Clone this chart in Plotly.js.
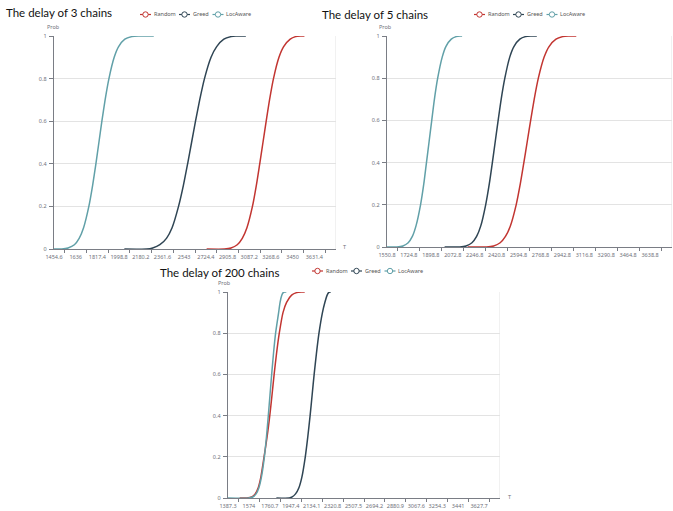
<!DOCTYPE html>
<html><head><meta charset="utf-8">
<script src="https://cdn.plot.ly/plotly-3.0.1.min.js"></script>
<style>html,body{margin:0;padding:0;background:#fff;}#chart{width:673px;height:511px;}</style>
</head><body><div id="chart"></div>
<script>
// ---------- data ----------
const seriesNames = ['Random', 'Greed', 'LocAware'];
const seriesColors = ['#c23531', '#2f4554', '#61a0a8'];
const titles = ['The delay of 3 chains', 'The delay of 5 chains', 'The delay of 200 chains'];
const yAxisName = 'Prob';
const xAxisName = 'T';

const p1TickLabels = ['1454.6','1636','1817.4','1998.8','2180.2','2361.6','2543','2724.4','2905.8','3087.2','3268.6','3450','3631.4'];
const p2TickLabels = ['1550.8','1724.8','1898.8','2072.8','2246.8','2420.8','2594.8','2768.8','2942.8','3116.8','3290.8','3464.8','3638.8'];
const p3TickLabels = ['1387.3','1574','1760.7','1947.4','2134.1','2320.8','2507.5','2694.2','2880.9','3067.6','3254.3','3441','3627.7'];

// cumulative probabilities read at these levels
const probLevels = [0,0,0.005,0.02,0.05,0.1,0.2,0.3,0.4,0.5,0.6,0.7,0.8,0.9,0.95,0.985,0.997,1,1];

// panel 1: 3 chains (delay T at each probability level)
const p1RandomT = [2731,2880,2935,2987,3029,3068,3114,3147,3175,3202,3229,3257,3290,3336,3375,3430,3475,3515,3549];
const p1GreedT  = [2043,2230,2280,2340,2395,2442,2496,2537,2572,2605,2638,2673,2713,2768,2815,2875,2935,2975,3059];
const p1LocT    = [1454.6,1520,1572,1625,1665,1702,1746,1778,1805,1830,1855,1882,1914,1958,1995,2047,2105,2160,2289];

// panel 2: 5 chains
const p2RandomT = [2191,2340,2397,2449,2491,2530,2576,2609,2637,2664,2691,2719,2752,2798,2837,2892,2945,2990,3053];
const p2GreedT  = [2008,2130,2178,2225,2262,2295,2334,2363,2387,2410,2433,2457,2486,2525,2558,2605,2650,2690,2740];
const p2LocT    = [1550.8,1630,1677,1719,1752,1781,1817,1843,1864,1885,1906,1927,1953,1989,2018,2061,2100,2130,2147];

// panel 3: 200 chains
const p3RandomT = [1491,1555,1598,1630,1657,1680,1709,1737,1760,1780,1799,1820,1845,1878,1910,1955,2000,2042,2072];
const p3GreedT  = [1819,1935,1960,1990,2020,2046,2077,2100,2120,2138,2156,2176,2199,2230,2252,2272,2285,2296,2305];
const p3LocT    = [1387.3,1570,1608,1638,1663,1685,1712,1731,1747,1762,1777,1793,1812,1839,1852,1868,1880,1892,1908];

// ---------- layout helpers ----------
const W = 673, H = 511;
const px = v => v / W;
const py = v => 1 - v / H;
const TICK_FONT = {family: 'Noto Sans, sans-serif', size: 5.5, color: '#6e7079'};
const AXIS_COLOR = '#7a7d85';
const GRID_COLOR = '#e3e3e3';

const panels = [
  {title: titles[0], titleAt: [4, 13], box: [54, 336, 36, 249], ticks: p1TickLabels,
   data: [p1RandomT, p1GreedT, p1LocT],
   legendAt: [140, 14.5], probAt: [53, 27], tAt: [345, 247]},
  {title: titles[1], titleAt: [320, 14], box: [387, 672, 36, 247], ticks: p2TickLabels,
   data: [p2RandomT, p2GreedT, p2LocT],
   legendAt: [474, 14.5], probAt: [385, 27], tAt: null},
  {title: titles[2], titleAt: [158, 272], box: [228, 500, 292, 498], ticks: p3TickLabels,
   data: [p3RandomT, p3GreedT, p3LocT],
   legendAt: [312, 271], probAt: [225, 283], tAt: [509, 497]}
];
const legendOffsets = [0, 39, 72.5];

const traces = [];
const layout = {
  width: W, height: H,
  margin: {l: 0, r: 0, t: 0, b: 0},
  paper_bgcolor: '#fff', plot_bgcolor: '#fff',
  showlegend: false,
  annotations: [], shapes: []
};

panels.forEach((p, i) => {
  const sfx = i === 0 ? '' : String(i + 1);
  const tickVals = p.ticks.map(Number);
  const step = tickVals[1] - tickVals[0];
  const xMax = tickVals[0] + step * tickVals.length;
  const mids = tickVals.map(v => v + step / 2);

  p.data.forEach((tVals, k) => {
    traces.push({
      type: 'scatter', mode: 'lines', name: seriesNames[k],
      x: tVals, y: probLevels, xaxis: 'x' + sfx, yaxis: 'y' + sfx,
      line: {color: seriesColors[k], width: 1.5, shape: 'spline', smoothing: 0.7},
      hoverinfo: 'x+y+name'
    });
  });

  layout['xaxis' + sfx] = {
    domain: [px(p.box[0]), px(p.box[1])], range: [tickVals[0], xMax],
    anchor: 'y' + sfx, tickmode: 'array', tickvals: tickVals, ticktext: p.ticks,
    ticks: '', showgrid: false, zeroline: false, showline: true,
    linecolor: AXIS_COLOR, linewidth: 1.2, tickfont: TICK_FONT, tickangle: 0,
    ticklabelstandoff: 2,
    minor: {tickmode: 'array', tickvals: mids, ticks: 'outside', ticklen: 3,
            tickcolor: AXIS_COLOR, tickwidth: 1, showgrid: false},
    fixedrange: true
  };
  layout['yaxis' + sfx] = {
    domain: [py(p.box[3]), py(p.box[2])], range: [0, 1],
    anchor: 'x' + sfx, tickmode: 'array', tickvals: [0, 0.2, 0.4, 0.6, 0.8, 1],
    ticks: 'outside', ticklen: 4, tickcolor: AXIS_COLOR, tickwidth: 1,
    showgrid: true, gridcolor: GRID_COLOR, gridwidth: 1, zeroline: false,
    showline: true, linecolor: AXIS_COLOR, linewidth: 1.3, tickfont: TICK_FONT,
    ticklabelstandoff: 1,
    fixedrange: true
  };

  // right boundary line of plot
  layout.shapes.push({type: 'line', xref: 'x' + sfx, yref: 'y' + sfx,
    x0: xMax, x1: xMax, y0: 0, y1: 1, line: {color: GRID_COLOR, width: 1}, layer: 'below'});

  // title
  layout.annotations.push({text: p.title, xref: 'paper', yref: 'paper',
    x: px(p.titleAt[0]), y: py(p.titleAt[1]), xanchor: 'left', yanchor: 'middle',
    showarrow: false,
    font: {family: 'Lato, sans-serif', size: 11.5, color: '#111'}});

  // axis names
  layout.annotations.push({text: yAxisName, xref: 'paper', yref: 'paper',
    x: px(p.probAt[0]), y: py(p.probAt[1]), xanchor: 'center', yanchor: 'middle',
    showarrow: false, font: TICK_FONT});
  if (p.tAt) {
    layout.annotations.push({text: xAxisName, xref: 'paper', yref: 'paper',
      x: px(p.tAt[0]), y: py(p.tAt[1]), xanchor: 'center', yanchor: 'middle',
      showarrow: false, font: TICK_FONT});
  }

  // legend (line + empty circle + label)
  seriesNames.forEach((name, k) => {
    const x0 = p.legendAt[0] + legendOffsets[k];
    const yc = p.legendAt[1];
    layout.shapes.push({type: 'line', xref: 'paper', yref: 'paper',
      x0: px(x0), x1: px(x0 + 11), y0: py(yc), y1: py(yc),
      line: {color: seriesColors[k], width: 1.2}});
    layout.shapes.push({type: 'circle', xref: 'paper', yref: 'paper',
      x0: px(x0 + 2.8), x1: px(x0 + 8.2), y0: py(yc + 2.7), y1: py(yc - 2.7),
      fillcolor: '#fff', line: {color: seriesColors[k], width: 1}});
    layout.annotations.push({text: name, xref: 'paper', yref: 'paper',
      x: px(x0 + 11.5), y: py(yc), xanchor: 'left', yanchor: 'middle',
      showarrow: false, font: {family: 'Noto Sans, sans-serif', size: 5.5, color: '#555'}});
  });
});

Plotly.newPlot('chart', traces, layout, {displayModeBar: false, staticPlot: true});
</script>
</body></html>
